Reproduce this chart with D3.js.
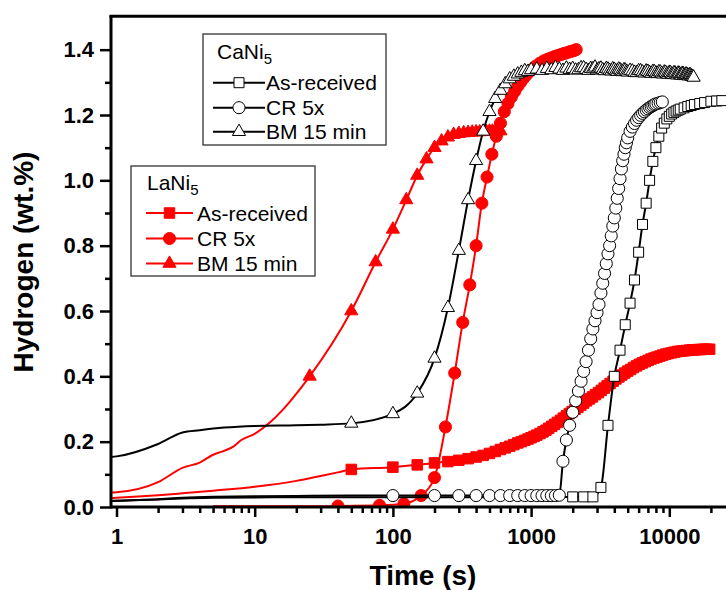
<!DOCTYPE html>
<html><head><meta charset="utf-8">
<script src="https://cdn.jsdelivr.net/npm/d3@7"></script>
<style>
body{margin:0;background:#fff}
svg{display:block}
text{font-family:"Liberation Sans",Arial,Helvetica,sans-serif}
</style>
</head><body>
<svg id="chart" width="726" height="590"></svg>
<script>
// ---------- data (time in s, hydrogen in wt.%) ----------
// CaNi5 As-received (open squares)
const caAsRecT = [0.9,1,2,3,5,10,20,50,100,200,400,800,1200,1600,
  2000,2400,2800,3200,3600,4000,4400,4800,5200,5600,6000,6400,6800,7200,7600,8000,8400,8800,9200,9600,10000,10400,10800,11200,11600,12000,12800,13600,14400,15200,16600,18000,20000,22000,24000];
const caAsRecV = [0.018,0.019,0.023,0.026,0.028,0.029,0.030,0.030,0.030,0.030,0.030,0.030,0.030,0.030,
  0.031,0.031,0.031,0.060,0.250,0.400,0.480,0.558,0.624,0.695,0.780,0.865,0.930,1.000,1.058,1.100,1.135,1.160,1.175,1.188,1.196,1.203,1.208,1.212,1.215,1.218,1.222,1.226,1.229,1.232,1.235,1.238,1.242,1.243,1.244];

// CaNi5 CR 5x (open circles)
const caCRT = [0.9,1,2,3,5,10,20,50,
  100,200,300,400,500,600,700,800,900,1000,1100,1200,1300,1400,1500,1600,1700,1800,1900,2000,2100,2200,2300,2400,2500,2600,2700,2800,2900,3000,3100,3200,3300,3400,3500,3600,3700,3800,3900,4000,4100,4200,4300,4400,4500,4600,4700,4800,4900,5000,
  5200,5400,5600,5800,6000,6200,6400,6600,6800,7000,7200,7400,7600,7800,8000,8300,8600,8900];
const caCRV = [0.018,0.019,0.024,0.028,0.031,0.033,0.034,0.035,
  0.035,0.035,0.035,0.035,0.035,0.035,0.035,0.035,0.035,0.035,0.035,0.035,0.035,0.035,0.035,0.036,0.140,0.205,0.250,0.290,0.325,0.355,0.385,0.415,0.445,0.480,0.515,0.545,0.570,0.595,0.620,0.655,0.685,0.715,0.745,0.775,0.800,0.830,0.860,0.885,0.915,0.945,0.975,1.005,1.035,1.060,1.080,1.100,1.115,1.130,
  1.150,1.163,1.174,1.184,1.192,1.199,1.205,1.210,1.215,1.219,1.223,1.226,1.229,1.232,1.234,1.236,1.238,1.240];

// CaNi5 BM 15 min (open triangles)
const caBMT = [0.9,1,2,3,4,6,10,20,30,
  50,100,150,200,250,300,350,400,450,500,550,600,650,700,750,800,850,900,950,1000,
  1100,1200,1300,1400,1500,1600,1700,1800,1900,2000,2100,2200,2300,2400,2500,2600,2700,2800,2900,3000,
  3100,3200,3300,3400,3500,3600,3700,3800,3900,4000,4100,4200,4300,4400,4500,4600,4700,4800,4900,5000,
  5200,5400,5600,5800,6000,6200,6400,6600,6800,7000,7200,7400,7600,7800,8000,8200,8400,8600,8800,9000,
  9200,9400,9600,9800,10000,10200,10400,10600,10800,11000,11200,11400,11600,11800,12000,12200,12400,12600,12800,13000,
  13200,13400,13600,13800,14000,14200,14400,14600,14800,15000];
const caBMV = [0.153,0.155,0.193,0.228,0.235,0.243,0.248,0.250,0.252,
  0.256,0.285,0.348,0.455,0.610,0.785,0.940,1.060,1.150,1.210,1.250,1.275,1.295,1.310,1.318,1.325,1.330,1.335,1.333,1.338,
  1.340,1.336,1.342,1.338,1.345,1.340,1.336,1.343,1.339,1.342,1.337,1.338,1.344,1.344,1.339,1.336,1.342,1.341,1.346,1.337,
  1.341,1.343,1.338,1.335,1.342,1.340,1.336,1.334,1.341,1.339,1.335,1.333,1.340,1.338,1.334,1.332,1.338,1.337,1.333,1.331,
  1.336,1.334,1.330,1.329,1.335,1.335,1.331,1.328,1.334,1.333,1.329,1.327,1.333,1.332,1.328,1.326,1.332,1.331,1.327,1.325,
  1.331,1.330,1.326,1.324,1.330,1.329,1.325,1.323,1.329,1.328,1.324,1.322,1.328,1.327,1.323,1.321,1.327,1.326,1.322,1.320,
  1.325,1.324,1.321,1.319,1.323,1.322,1.319,1.318,1.317,1.315];

// LaNi5 As-received (filled squares)
const laAsRecT = [0.9,1,2,3,5,10,20,30,40,
  50,100,150,200,250,300,350,400,450,500,550,600,650,700,750,800,850,900,950,1000,
  1050,1100,1160,1220,1280,1340,1410,1480,1550,1630,1710,1800,1890,1980,2080,2180,2290,2400,2520,2650,
  2780,2920,3070,3220,3380,3550,3730,3920,4110,4320,4530,4760,5000,5250,5510,5790,6080,6380,6700,7030,
  7380,7750,8140,8550,8970,9420,9890,10390,10900,11450,12020,12620,13260,13920,14620,15350,16110,16920,17770,18650,19590];
const laAsRecV = [0.027,0.028,0.036,0.042,0.050,0.062,0.080,0.095,0.106,
  0.115,0.122,0.129,0.135,0.139,0.143,0.148,0.153,0.158,0.164,0.170,0.176,0.181,0.186,0.191,0.196,0.200,0.204,0.208,0.212,
  0.216,0.220,0.225,0.230,0.235,0.241,0.247,0.253,0.259,0.265,0.272,0.279,0.286,0.292,0.299,0.305,0.312,0.318,0.325,0.331,
  0.337,0.344,0.350,0.357,0.364,0.371,0.378,0.385,0.392,0.398,0.404,0.410,0.416,0.421,0.427,0.432,0.437,0.441,0.445,0.449,
  0.453,0.456,0.459,0.462,0.465,0.468,0.470,0.472,0.474,0.476,0.477,0.478,0.479,0.480,0.481,0.481,0.482,0.482,0.483,0.483,0.483];

// LaNi5 CR 5x (filled circles)
const laCRT = [5,10,20,30,
  40,80,120,160,200,240,280,320,360,400,440,480,520,560,600,640,680,720,760,800,840,880,920,960,1000,
  1080,1160,1240,1320,1400,1480,1560,1640,1720,1800,1880,1960,2040,2120];
const laCRV = [0.002,0.002,0.002,0.002,
  0.003,0.005,0.010,0.035,0.090,0.245,0.410,0.565,0.680,0.800,0.930,1.010,1.080,1.135,1.175,1.210,1.235,1.255,1.272,1.288,1.300,1.312,1.322,1.331,1.338,
  1.350,1.359,1.366,1.371,1.375,1.379,1.382,1.385,1.388,1.390,1.393,1.395,1.397,1.400];

// LaNi5 BM 15 min (filled triangles)
const laBMT = [0.9,1,2,3,4,5,6,7,8,10,13,16,19,
  25,50,75,100,125,150,175,200,225,250,275,300,325,350,375,400,425,450,475,500,525,550,575,600];
const laBMV = [0.044,0.045,0.076,0.120,0.136,0.160,0.172,0.185,0.205,0.224,0.260,0.298,0.335,
  0.400,0.600,0.750,0.850,0.940,1.015,1.065,1.100,1.120,1.132,1.140,1.143,1.145,1.146,1.147,1.148,1.148,1.149,1.149,1.150,1.150,1.150,1.151,1.151];

const xMajorTicks = [1,10,100,1000,10000];
const xMinorTicks = [2,3,4,5,6,7,8,9,20,30,40,50,60,70,80,90,200,300,400,500,600,700,800,900,
  2000,3000,4000,5000,6000,7000,8000,9000,20000];
const yMajorTicks = [0,0.2,0.4,0.6,0.8,1.0,1.2,1.4];
const yMinorTicks = [0.1,0.3,0.5,0.7,0.9,1.1,1.3];
const legendCa = ["As-received","CR 5x","BM 15 min"];
const legendLa = ["As-received","CR 5x","BM 15 min"];

// ---------- layout ----------
const svg = d3.select("#chart");
const L = 111, R = 726, T = 17, B = 507;
const x = d3.scaleLog().domain([1, 10000]).range([116.5, 669.3]);
const y = d3.scaleLinear().domain([0, 1.5]).range([B, T]);
const RED = "#ff0000", BLK = "#000000";

svg.append("defs").append("clipPath").attr("id","plotclip")
  .append("rect").attr("x",L).attr("y",0).attr("width",R-L+5).attr("height",B);

const mk = (t,v) => t.map((d,i)=>({t:d, v:v[i]}));
const series = [
  {data: mk(laAsRecT, laAsRecV), color: RED, shape: d3.symbolSquare, size: 110, filled: true, markFrom: 50},
  {data: mk(laBMT, laBMV), color: RED, shape: d3.symbolTriangle, size: 75, filled: true, markFrom: 25},
  {data: mk(laCRT, laCRV), color: RED, shape: d3.symbolCircle, size: 115, filled: true, markFrom: 40},
  {data: mk(caAsRecT, caAsRecV), color: BLK, shape: d3.symbolSquare, size: 100, filled: false, markFrom: 2000},
  {data: mk(caCRT, caCRV), color: BLK, shape: d3.symbolCircle, size: 115, filled: false, markFrom: 100},
  {data: mk(caBMT, caBMV), color: BLK, shape: d3.symbolTriangle, size: 75, filled: false, markFrom: 50}
];

const plot = svg.append("g").attr("clip-path","url(#plotclip)");
const line = d3.line().x(d=>x(d.t)).y(d=>y(d.v)).curve(d3.curveMonotoneX);

series.forEach(s => {
  const g = plot.append("g");
  g.append("path").datum(s.data).attr("d", line)
    .attr("fill","none").attr("stroke", s.color).attr("stroke-width", 2);
  g.selectAll("path.m").data(s.data.filter(d=>d.t>=s.markFrom)).join("path")
    .attr("class","m")
    .attr("transform", d=>`translate(${x(d.t)},${y(d.v)})`)
    .attr("d", d3.symbol().type(s.shape).size(s.size))
    .attr("fill", s.filled ? s.color : "#fff")
    .attr("stroke", s.color).attr("stroke-width", 1);
});

// ---------- axes ----------
const fontTick = "bold 22px 'Liberation Sans', Arial, sans-serif";
const gx = svg.append("g").attr("transform",`translate(0,${B})`);
gx.call(d3.axisBottom(x).tickValues(xMinorTicks).tickSize(6).tickFormat(""));
gx.call(g=>g.select(".domain").remove());
const gx2 = svg.append("g").attr("transform",`translate(0,${B})`);
gx2.call(d3.axisBottom(x).tickValues(xMajorTicks).tickSize(10).tickPadding(11).tickFormat(d3.format("d")));
gx2.select(".domain").remove();
gx2.selectAll("text").style("font", fontTick).attr("fill","#000");

const gy = svg.append("g").attr("transform",`translate(${L},0)`);
gy.call(d3.axisLeft(y).tickValues(yMinorTicks).tickSize(6).tickFormat(""));
gy.select(".domain").remove();
const gy2 = svg.append("g").attr("transform",`translate(${L},0)`);
gy2.call(d3.axisLeft(y).tickValues(yMajorTicks).tickSize(11).tickPadding(6).tickFormat(d3.format(".1f")));
gy2.select(".domain").remove();
svg.selectAll("g.tick line").attr("stroke-width",2.5);
gy2.selectAll("text").style("font", fontTick).attr("fill","#000");

// frame lines
svg.append("line").attr("x1",L).attr("x2",R).attr("y1",B).attr("y2",B).attr("stroke","#000").attr("stroke-width",3);
svg.append("line").attr("x1",L).attr("x2",L).attr("y1",T-1.5).attr("y2",B+1.5).attr("stroke","#000").attr("stroke-width",3);
svg.append("line").attr("x1",L-1.5).attr("x2",R).attr("y1",T-0.7).attr("y2",T-0.7).attr("stroke","#000").attr("stroke-width",3);

// axis titles
svg.append("text").attr("x",423).attr("y",585).attr("text-anchor","middle")
  .style("font","bold 28px 'Liberation Sans', Arial, sans-serif").text("Time (s)");
svg.append("text").attr("transform","translate(33,262) rotate(-90)").attr("text-anchor","middle")
  .style("font","bold 28px 'Liberation Sans', Arial, sans-serif").text("Hydrogen (wt.%)");

// ---------- legends ----------
function legend(bx, by, bw, bh, title, labels, rows, color, filled, lineX0, lineX1, textX, titleX, titleY) {
  const g = svg.append("g");
  g.append("rect").attr("x",bx).attr("y",by).attr("width",bw).attr("height",bh)
    .attr("fill","#fff").attr("stroke","#333").attr("stroke-width",1.3);
  const tt = g.append("text").attr("x",titleX).attr("y",titleY).style("font","21px 'Liberation Sans', Arial, sans-serif").attr("fill","#000");
  tt.append("tspan").text(title);
  tt.append("tspan").attr("dy",5).style("font-size","15px").text("5");
  const shapes = [d3.symbolSquare, d3.symbolCircle, d3.symbolTriangle];
  const sizes = [filled?110:100, 115, 75];
  labels.forEach((lab,i)=>{
    const yy = rows[i];
    g.append("line").attr("x1",lineX0).attr("x2",lineX1).attr("y1",yy).attr("y2",yy)
      .attr("stroke",color).attr("stroke-width",2);
    g.append("path").attr("transform",`translate(${(lineX0+lineX1)/2},${yy})`)
      .attr("d", d3.symbol().type(shapes[i]).size(sizes[i]))
      .attr("fill", filled?color:"#fff").attr("stroke",color).attr("stroke-width",1);
    g.append("text").attr("x",textX).attr("y",yy+7.5).style("font","21px 'Liberation Sans', Arial, sans-serif").attr("fill","#000").text(lab);
  });
}
legend(203, 34, 183, 111, "CaNi", legendCa, [82.7,107.7,131.7], BLK, false, 213, 265, 266, 217, 59);
legend(131, 166, 184, 110, "LaNi", legendLa, [213,238.5,263.5], RED, true, 146, 193, 197, 147, 190);
</script>
</body></html>
